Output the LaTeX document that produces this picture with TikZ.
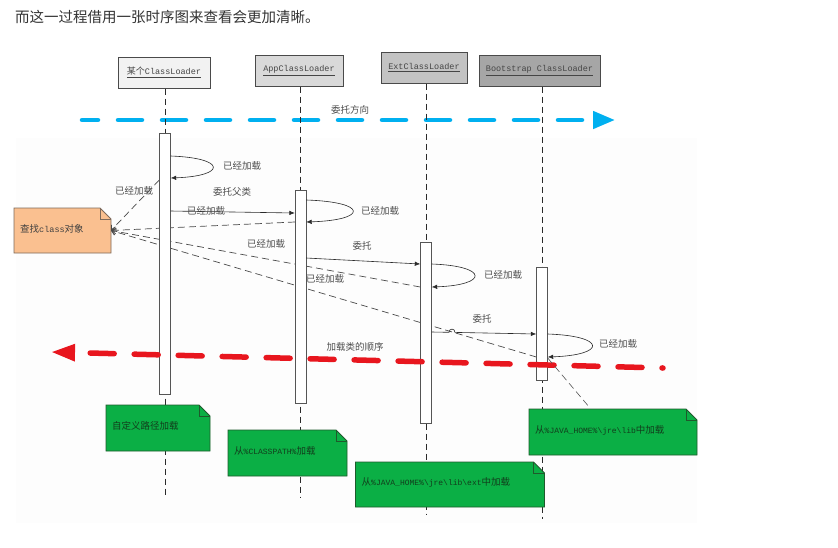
\documentclass[tikz,border=0pt]{standalone}
\usepackage{fontspec}
\setmainfont{Noto Sans CJK SC}
\setmonofont{Liberation Mono}
\newfontfamily\cjkf{Noto Sans CJK SC}
\usetikzlibrary{arrows.meta}
\definecolor{titlec}{HTML}{333333}
\definecolor{lblc}{HTML}{4D4D4D}
\definecolor{bluec}{HTML}{00B0F0}
\definecolor{redc}{HTML}{E8161E}
\definecolor{orangef}{HTML}{FAC090}
\definecolor{oranged}{HTML}{7F6A5A}
\definecolor{greenf}{HTML}{0BAF45}
\definecolor{greend}{HTML}{1F5A2C}
\definecolor{greent}{HTML}{123D1C}
\definecolor{hdA}{HTML}{F2F2F2}
\definecolor{hdB}{HTML}{D9D9D9}
\definecolor{hdC}{HTML}{C3C3C3}
\definecolor{hdD}{HTML}{A6A6A6}
\definecolor{hdborder}{HTML}{4A4A4A}
\definecolor{hdtext}{HTML}{454545}
\definecolor{linec}{HTML}{2A2A2A}
\definecolor{panel}{HTML}{FDFDFD}
% name, center, width, height, fill, draw, text colour, text
\newcommand{\mynote}[8]{%
  \node[minimum width=#3pt, minimum height=#4pt, inner sep=0pt, outer sep=0pt] (#1) at (#2) {};
  \filldraw[fill=#5, draw=#6, line width=0.9pt] (#1.north west) -- ([xshift=-11pt]#1.north east)
     -- ([yshift=-11pt]#1.north east) -- (#1.south east) -- (#1.south west) -- cycle;
  \draw[draw=#6, line width=0.6pt] ([xshift=-11pt]#1.north east) -- ([xshift=-11pt,yshift=-11pt]#1.north east)
     -- ([yshift=-11pt]#1.north east);
  \node[anchor=west, inner sep=0pt, text=#7, font=\fontsize{9.5}{11}\selectfont] (#1-t) at ([xshift=6pt,yshift=2pt]#1.west) {#8};
}
\begin{document}
\begin{tikzpicture}[x=1pt,y=-1pt,
  hdr/.style={draw=hdborder, line width=1pt, minimum height=31pt, inner sep=0pt,
     font=\fontsize{8.5}{10}\selectfont, text=hdtext},
  bar/.style={draw=linec!80, fill=white, line width=0.7pt, minimum width=11pt, inner sep=0pt},
  life/.style={draw=linec, line width=0.6pt, dash pattern=on 6pt off 4pt},
  msg/.style={draw=linec, line width=0.6pt, -{Latex[length=5.5pt,width=4.5pt]}},
  ret/.style={draw=linec!85, line width=0.7pt, dash pattern=on 7pt off 4pt,
     -{Straight Barb[length=4pt,width=7pt]}},
  lbl/.style={font=\fontsize{9.5}{11}\selectfont, text=lblc, inner sep=0pt},
]
\useasboundingbox (0,0) rectangle (838,547);
\fill[white] (0,0) rectangle (838,547);
\fill[panel] (16,138) rectangle (697,523);

% title
\node[anchor=west, inner sep=0pt, text=titlec, font=\fontsize{14.5}{16}\selectfont] (title) at (15,17)
  {而这一过程借用一张时序图来查看会更加清晰。};

% headers
\node[hdr, fill=hdA, minimum width=92pt] (h1) at (164,72.5) {\underline{{\cjkf\fontsize{9}{10}\selectfont 某个}{\ttfamily ClassLoader}}};
\node[hdr, fill=hdB, minimum width=88pt] (h2) at (299,70.5) {\underline{\ttfamily AppClassLoader}};
\node[hdr, fill=hdC, minimum width=86pt] (h3) at (424,67.5) {\underline{\ttfamily ExtClassLoader}};
\node[hdr, fill=hdD, minimum width=121pt] (h4) at (539.5,70.5) {\underline{\ttfamily Bootstrap ClassLoader}};

% bars (invisible anchors)
\path (165,263.5) node[minimum width=11pt, minimum height=261pt, inner sep=0pt] (a1) {};
\path (300.5,296.5) node[minimum width=11pt, minimum height=213pt, inner sep=0pt] (a2) {};
\path (426,332.5) node[minimum width=11pt, minimum height=181pt, inner sep=0pt] (a3) {};
\path (542,323.5) node[minimum width=11pt, minimum height=113pt, inner sep=0pt] (a4) {};

% blue arrow
\coordinate (bs) at (82,120);
\coordinate (be) at (615,120);
\draw[bluec, line width=4.5pt, line cap=round, dash pattern=on 24pt off 20pt, dash phase=8pt,
  -{Triangle[length=22pt,width=17pt]}] (bs) -- (be);
\node[lbl] (lblue) at (350,110) {委托方向};

% lifelines
\draw[life] (a1 |- h1.south) -- (a1 |- 0,498);
\draw[life] (a2 |- h2.south) -- (a2 |- 0,497);
\draw[life] (a3 |- h3.south) -- (a3 |- 0,515);
\draw[life] (a4 |- h4.south) -- (a4 |- 0,519);

% orange note
\mynote{on}{62.5,230.5}{97}{45}{orangef}{oranged}{black!75}{查找{\ttfamily\fontsize{8.5}{10}\selectfont class}对象}

% dashed returns to the orange note
\draw[ret] (a1.west |- 0,180) -- (on.east);
\draw[ret] (a2.west |- 0,222) -- (on.east);
\draw[ret] (a3.west |- 0,287) -- (on.east);
\draw[ret] (a4.west |- 0,357) -- (on.east);

% bars drawn
\node[bar, minimum height=261pt] (b1) at (a1) {};
\node[bar, minimum height=213pt] (b2) at (a2) {};
\node[bar, minimum height=181pt] (b3) at (a3) {};
\node[bar, minimum height=113pt] (b4) at (a4) {};

% messages
\draw[msg] (a1.east |- 0,211) -- (a2.west |- 0,213);
\draw[msg] (a2.east |- 0,258) -- (a3.west |- 0,264);
\draw[msg] (a3.east |- 0,332) -- (449,332.3) .. controls (449,328) and (455,328) .. (455,332.4) -- (a4.west |- 0,334);

% self loops
\draw[msg] (a1.east |- 0,156) .. controls +(56,2) and +(56,-2) .. (a1.east |- 0,178);
\draw[msg] (a2.east |- 0,200) .. controls +(62,2) and +(62,-2) .. (a2.east |- 0,222);
\draw[msg] (a3.east |- 0,264) .. controls +(57,2) and +(57,-2) .. (a3.east |- 0,287);
\draw[msg] (a4.east |- 0,334) .. controls +(59,2) and +(59,-2) .. (a4.east |- 0,357);

% red arrow
\coordinate (rs) at (663,368);
\coordinate (re) at (51,352);
\draw[redc, line width=5.5pt, line cap=round, dash pattern=on 24pt off 20pt, dash phase=23pt,
  -{Triangle[length=24pt,width=16pt]}] (rs) -- (re);
\node[lbl] (lred) at (355,347) {加载类的顺序};

% green notes
\draw[linec!80, line width=0.6pt, dash pattern=on 7pt off 4pt] (a4.east |- 0,358) -- (590,408);
\mynote{n1}{158,428}{104}{46}{greenf}{greend}{greent}{自定义路径加载}
\mynote{n2}{287.5,453}{119}{46}{greenf}{greend}{greent}{从{\ttfamily\fontsize{8}{10}\selectfont\%CLASSPATH\%}加载}
\mynote{n3}{450,484.5}{189}{45}{greenf}{greend}{greent}{从{\ttfamily\fontsize{8}{10}\selectfont\%JAVA\_HOME\%\textbackslash jre\textbackslash lib\textbackslash ext}中加载}
\mynote{n4}{613,432}{168}{46}{greenf}{greend}{greent}{从{\ttfamily\fontsize{8}{10}\selectfont\%JAVA\_HOME\%\textbackslash jre\textbackslash lib}中加载}

% labels
\node[lbl] (l1) at (242,166) {已经加载};
\node[lbl] (l2) at (134,191) {已经加载};
\node[lbl] (l3) at (232,192) {委托父类};
\node[lbl] (l4) at (206,211) {已经加载};
\node[lbl] (l5) at (380,211) {已经加载};
\node[lbl] (l6) at (266,244) {已经加载};
\node[lbl] (l7) at (362,246) {委托};
\node[lbl] (l8) at (503,275) {已经加载};
\node[lbl] (l9) at (325,279) {已经加载};
\node[lbl] (l10) at (482,319) {委托};
\node[lbl] (l11) at (618,344) {已经加载};
\end{tikzpicture}
\end{document}
